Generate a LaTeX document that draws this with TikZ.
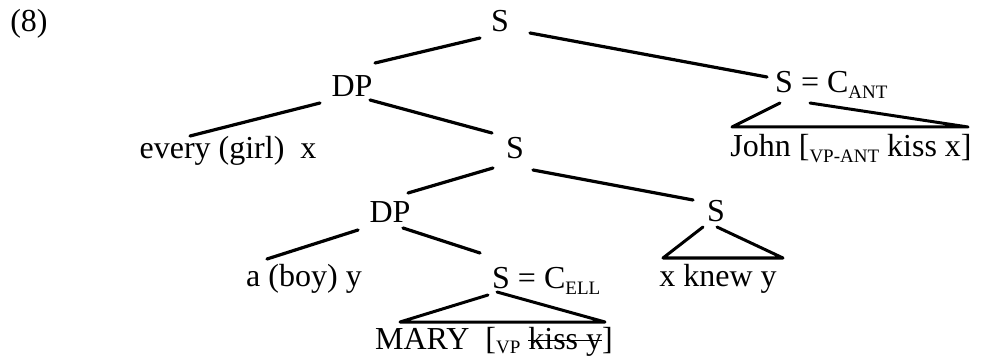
\documentclass[tikz,border=0pt]{standalone}
\usepackage{fontspec}
\setmainfont{Liberation Serif}
\usetikzlibrary{calc}
\newcommand\subx[2][6pt]{\raisebox{-#1}{\fontsize{19}{20}\selectfont #2}}
\newsavebox\strkbox
\newcommand\strk[1]{\sbox\strkbox{#1}\rlap{\rule[0.24em]{\wd\strkbox}{1.5pt}}\usebox\strkbox}
\begin{document}
\begin{tikzpicture}[x=1pt,y=-1pt,
  lbl/.style={anchor=base,inner sep=0pt,font=\fontsize{32}{38}\selectfont},
  edge/.style={line width=3.2pt,line cap=round},
  tri/.style={line width=3pt,line cap=round,line join=round}]
\useasboundingbox (0,0) rectangle (988,358);
\node[lbl] (ex) at (29,32) {(8)};
\node[lbl] (S0) at (500,32) {S};
\node[lbl] (DP1) at (352,97) {DP};
\node[lbl] (every) at (228,159) {every (girl)\ \ x};
\node[lbl] (S1) at (515,159) {S};
\node[lbl,anchor=base west] (SC) at (775,93) {S = C\subx{ANT}};
\node[lbl] (john) at (851,157) {John [\subx{VP-ANT} kiss x]};
\node[lbl] (DP2) at (390,223) {DP};
\node[lbl] (aboy) at (304,287) {a (boy) y};
\node[lbl,anchor=base west] (SE) at (492,288) {S = C\subx{ELL}};
\node[lbl] (S2) at (716,222) {S};
\node[lbl] (knew) at (718,287) {x knew y};
\node[lbl] (mary) at (494,349) {MARY\ \ [\subx[4pt]{VP} \strk{kiss y}]};
% edges
\draw[edge] ($(S0.base)+(-20,6)$) -- ($(DP1.base)+(23,-34)$);
\draw[edge] ($(S0.base)+(30,1)$) -- ($(SC.base west)+(-8,-16)$);
\draw[edge] ($(DP1.base)+(-32,6)$) -- ($(every.base)+(-38,-23)$);
\draw[edge] ($(DP1.base)+(18,3)$) -- ($(S1.base)+(-23,-26)$);
\draw[edge] ($(S1.base)+(-22,9)$) -- ($(DP2.base)+(18,-30)$);
\draw[edge] ($(S1.base)+(18,11)$) -- ($(S2.base)+(-23,-22)$);
\draw[edge] ($(DP2.base)+(-32,7)$) -- ($(aboy.base)+(-37,-28)$);
\draw[edge] ($(DP2.base)+(13,5)$) -- ($(SE.base west)+(-12,-35)$);
% triangles
\draw[tri] ($(SC.base west)+(5,10)$) -- ($(john.base)+(-119,-30)$) -- ($(john.base)+(117,-30)$) -- ($(SC.base west)+(35,10)$);
\draw[tri] ($(S2.base)+(-13,5)$) -- ($(knew.base)+(-55,-29)$) -- ($(knew.base)+(65,-29)$) -- ($(S2.base)+(1,5)$);
\draw[tri] ($(SE.base west)+(-4,7)$) -- ($(mary.base)+(-94,-27)$) -- ($(mary.base)+(111,-27)$) -- ($(SE.base west)+(5,4)$);
\end{tikzpicture}
\end{document}
